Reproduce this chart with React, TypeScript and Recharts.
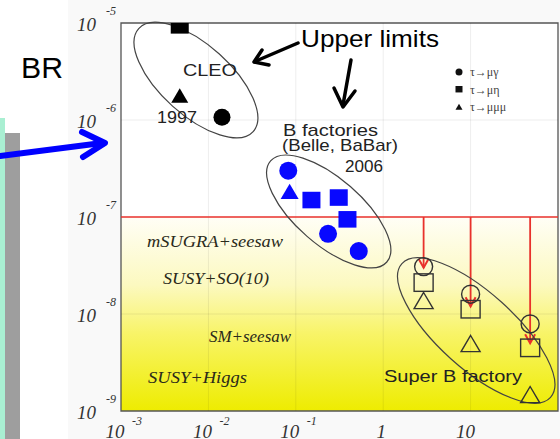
import React from 'react'
import {
  ScatterChart,
  Scatter,
  XAxis,
  YAxis,
  ReferenceArea,
  ReferenceLine,
  ReferenceDot,
  Legend,
} from 'recharts'

// axis ticks (log decades)
const xTicks = [0.001, 0.01, 0.1, 1, 10]
const xTickBase = ['10', '10', '10', '1', '10']
const xTickExp = ['-3', '-2', '-1', '', '']
const yTicks = [1e-9, 1e-8, 1e-7, 1e-6, 1e-5]
const yTickExp = ['-9', '-8', '-7', '-6', '-5']
const gridX = [0.01, 0.1, 1, 10]
const gridY = [1e-8, 1e-6]

// CLEO 1997 upper limits
const cleoMuGamma = [{ x: 0.0143, y: 1.07e-6 }]
const cleoMuEta = [{ x: 0.0047, y: 9.3e-6 }]
const cleoMuMuMu = [{ x: 0.0047, y: 1.77e-6 }]

// B factories 2006
const bfacMuGamma = [
  { x: 0.082, y: 3.0e-7 },
  { x: 0.234, y: 6.7e-8 },
  { x: 0.525, y: 4.45e-8 },
]
const bfacMuEta = [
  { x: 0.151, y: 1.47e-7 },
  { x: 0.31, y: 1.56e-7 },
  { x: 0.39, y: 9.3e-8 },
]
const bfacMuMuMu = [{ x: 0.085, y: 1.82e-7 }]

// Super B factory projections
const superBX = [2.9, 10, 48]
const superBMuGamma = [3.08e-8, 1.6e-8, 7.9e-9]
const superBMuEta = [2.07e-8, 1.1e-8, 4.4e-9]
const superBMuMuMu = [1.36e-8, 4.9e-9, 1.46e-9]
const superBArrowEnd = [3.0e-8, 1.2e-8, 5.0e-9]
const currentLimit = 1e-7

// centres of the group ellipses
const groupCenters = [
  { name: 'CLEO', x: 0.0072, y: 2.58e-6 },
  { name: 'B factories', x: 0.238, y: 1.14e-7 },
  { name: 'Super B', x: 11.6, y: 6.76e-9 },
]

const legendItems = [
  { label: 'τ→μγ', kind: 'circle' },
  { label: 'τ→μη', kind: 'square' },
  { label: 'τ→μμμ', kind: 'triangle' },
]

const toPoints = (xs: number[], ys: number[]) => xs.map((x, i) => ({ x, y: ys[i] }))

const SERIF = '"Liberation Serif", "Times New Roman", serif'
const SANS = '"Liberation Sans", Arial, sans-serif'
const RED = '#e8312b'
const BLUE = '#0808ff'
const ELLIPSE_STYLE = [
  { rx: 77, ry: 35, angle: 42 },
  { rx: 77, ry: 33, angle: 41 },
  { rx: 100, ry: 38, angle: 42 },
]

type Kind = 'circle' | 'square' | 'triangle'

const marker = (kind: Kind, fill: string, stroke: string, size: number) => (props: any) => {
  const { cx, cy } = props
  if (cx == null || cy == null) return <g />
  const h = size / 2
  const common = { fill, stroke, strokeWidth: fill === 'none' ? 1.4 : 0 }
  if (kind === 'circle') return <circle cx={cx} cy={cy} r={h} {...common} />
  if (kind === 'square') return <rect x={cx - h} y={cy - h} width={size} height={size * 0.92} {...common} />
  return (
    <polygon
      points={`${cx},${cy - h * 0.9} ${cx + h},${cy + h * 0.8} ${cx - h},${cy + h * 0.8}`}
      {...common}
    />
  )
}

const XTick = (props: any) => {
  const { x, y, payload } = props
  const i = xTicks.findIndex((t) => Math.abs(t - payload.value) / t < 1e-6)
  if (i < 0) return <g />
  const base = xTickBase[i]
  const exp = xTickExp[i]
  const shift = exp ? 6 : base.length === 1 ? 2 : 5
  return (
    <g fontFamily={SERIF} fontStyle="italic" fill="#333">
      <text x={x - shift} y={y + 27} textAnchor="middle" fontSize={19}>
        {base}
      </text>
      {exp && (
        <text x={x + 11} y={y + 14} fontSize={12}>
          {exp}
        </text>
      )}
    </g>
  )
}

const YTick = (props: any) => {
  const { x, y, payload } = props
  const i = yTicks.findIndex((t) => Math.abs(t - payload.value) / t < 1e-6)
  if (i < 0) return <g />
  return (
    <g fontFamily={SERIF} fontStyle="italic" fill="#333">
      <text x={x - 25} y={y + 8} textAnchor="end" fontSize={19}>
        10
      </text>
      <text x={x - 15} y={y - 8} fontSize={12}>
        {yTickExp[i]}
      </text>
    </g>
  )
}

const ellipseShape = (idx: number) => (props: any) => {
  const { cx, cy } = props
  const s = ELLIPSE_STYLE[idx]
  return (
    <ellipse
      cx={cx}
      cy={cy}
      rx={s.rx}
      ry={s.ry}
      transform={`rotate(${s.angle} ${cx} ${cy})`}
      fill="none"
      stroke="#444"
      strokeWidth={1.2}
    />
  )
}

const chevron = (props: any) => {
  const { cx, cy } = props
  return (
    <polyline
      points={`${cx - 5},${cy - 9} ${cx},${cy} ${cx + 5},${cy - 9}`}
      fill="none"
      stroke={RED}
      strokeWidth={2}
    />
  )
}

const LegendBox = () => (
  <svg width={100} height={56}>
    {legendItems.map((it, i) => {
      const cy = 8 + i * 17.5
      return (
        <g key={it.label}>
          {marker(it.kind as Kind, '#111', 'none', 7)({ cx: 6, cy })}
          <text x={17} y={cy + 4} fontFamily={SERIF} fontSize={12} fill="#444">
            {it.label}
          </text>
        </g>
      )
    })}
  </svg>
)

export default function App() {
  return (
    <div
      style={{
        position: 'absolute',
        left: 0,
        top: 0,
        width: 560,
        height: 439,
        overflow: 'hidden',
        background: '#fff',
      }}
    >
      <svg width={560} height={439} style={{ position: 'absolute', left: 0, top: 0 }}>
        <rect x={68} y={0} width={492} height={439} fill="#f9f9f9" />
        <rect x={0} y={118} width={5} height={321} fill="#a9efd2" />
        <rect x={5} y={133} width={15} height={306} fill="#9e9e9e" />
      </svg>

      <div style={{ position: 'absolute', left: 0, top: 0 }}>
        <ScatterChart width={560} height={439} margin={{ top: 23, right: 2, left: 61, bottom: 0 }}>
          <defs>
            <linearGradient id="yellowGrad" x1="0" y1="0" x2="0" y2="1">
              <stop offset="0%" stopColor="#fffef6" />
              <stop offset="35%" stopColor="#fcf9c0" />
              <stop offset="60%" stopColor="#f8f468" />
              <stop offset="100%" stopColor="#eeec00" />
            </linearGradient>
          </defs>
          <XAxis
            type="number"
            dataKey="x"
            scale="log"
            domain={[0.001, 100]}
            ticks={xTicks}
            allowDataOverflow
            axisLine={false}
            tickLine={false}
            tickSize={0}
            tickMargin={0}
            height={28}
            tick={XTick}
            interval={0}
          />
          <YAxis
            type="number"
            dataKey="y"
            scale="log"
            domain={[1e-9, 1e-5]}
            ticks={yTicks}
            allowDataOverflow
            axisLine={false}
            tickLine={false}
            tickSize={0}
            tickMargin={0}
            width={60}
            tick={YTick}
            interval={0}
          />

          <ReferenceArea x1={0.001} x2={100} y1={1e-9} y2={1e-5} fill="#fff" fillOpacity={1} stroke="none" />
          <ReferenceArea
            x1={0.001}
            x2={100}
            y1={1e-9}
            y2={currentLimit}
            fill="url(#yellowGrad)"
            fillOpacity={1}
            stroke="none"
          />
          {gridX.map((v) => (
            <ReferenceLine key={`gx${v}`} x={v} stroke="#000" strokeOpacity={0.07} strokeWidth={1} />
          ))}
          {gridY.map((v) => (
            <ReferenceLine key={`gy${v}`} y={v} stroke="#000" strokeOpacity={0.07} strokeWidth={1} />
          ))}
          <ReferenceLine y={currentLimit} stroke={RED} strokeWidth={1.4} />

          {superBX.map((x, i) => (
            <ReferenceLine
              key={`arr${x}`}
              segment={[
                { x, y: currentLimit },
                { x, y: superBArrowEnd[i] },
              ]}
              stroke={RED}
              strokeWidth={1.8}
            />
          ))}
          {superBX.map((x, i) => (
            <ReferenceDot key={`head${x}`} x={x} y={superBArrowEnd[i]} r={5} shape={chevron} />
          ))}

          {groupCenters.map((g, i) => (
            <ReferenceDot key={g.name} x={g.x} y={g.y} r={1} shape={ellipseShape(i)} />
          ))}

          <Scatter data={cleoMuGamma} shape={marker('circle', '#000', 'none', 17)} isAnimationActive={false} />
          <Scatter data={cleoMuEta} shape={marker('square', '#000', 'none', 18)} isAnimationActive={false} />
          <Scatter data={cleoMuMuMu} shape={marker('triangle', '#000', 'none', 17)} isAnimationActive={false} />

          <Scatter data={bfacMuGamma} shape={marker('circle', BLUE, 'none', 18)} isAnimationActive={false} />
          <Scatter data={bfacMuEta} shape={marker('square', BLUE, 'none', 18)} isAnimationActive={false} />
          <Scatter data={bfacMuMuMu} shape={marker('triangle', BLUE, 'none', 18)} isAnimationActive={false} />

          <Scatter
            data={toPoints(superBX, superBMuGamma)}
            shape={marker('circle', 'none', '#333', 18)}
            isAnimationActive={false}
          />
          <Scatter
            data={toPoints(superBX, superBMuEta)}
            shape={marker('square', 'none', '#333', 19)}
            isAnimationActive={false}
          />
          <Scatter
            data={toPoints(superBX, superBMuMuMu)}
            shape={marker('triangle', 'none', '#333', 19)}
            isAnimationActive={false}
          />

          <ReferenceArea
            x1={0.001}
            x2={100}
            y1={1e-9}
            y2={1e-5}
            fill="none"
            stroke="#555"
            strokeWidth={1.3}
          />

          <Legend
            layout="vertical"
            align="center"
            verticalAlign="middle"
            wrapperStyle={{ left: 453, top: 64, width: 100 }}
            content={LegendBox}
          />
        </ScatterChart>
      </div>

      <svg
        width={560}
        height={439}
        style={{ position: 'absolute', left: 0, top: 0, pointerEvents: 'none' }}
      >
        <text x={21} y={78} fontFamily={SANS} fontSize={30} textLength={42} lengthAdjust="spacingAndGlyphs">
          BR
        </text>
        <line x1={0} y1={156} x2={102} y2={143} stroke="#0000ff" strokeWidth={6} strokeLinecap="round" />
        <polyline
          points="82,132 105,143 83,157"
          fill="none"
          stroke="#0000ff"
          strokeWidth={6}
          strokeLinecap="round"
          strokeLinejoin="round"
        />

        <text x={301} y={47} fontFamily={SANS} fontSize={24} textLength={138} lengthAdjust="spacingAndGlyphs">
          Upper limits
        </text>
        <line x1={298} y1={43} x2={256} y2={61} stroke="#000" strokeWidth={3.5} strokeLinecap="round" />
        <polyline
          points="262,50 254,62 269,65"
          fill="none"
          stroke="#000"
          strokeWidth={3.5}
          strokeLinecap="round"
          strokeLinejoin="round"
        />
        <line x1={351} y1={60} x2={343} y2={105} stroke="#000" strokeWidth={3.5} strokeLinecap="round" />
        <polyline
          points="334,88 343,107 355,91"
          fill="none"
          stroke="#000"
          strokeWidth={3.5}
          strokeLinecap="round"
          strokeLinejoin="round"
        />

        <g fontFamily={SANS} fill="#222">
          <text x={183} y={76} fontSize={17} textLength={54} lengthAdjust="spacingAndGlyphs">
            CLEO
          </text>
          <text x={157} y={123} fontSize={16} textLength={40} lengthAdjust="spacingAndGlyphs">
            1997
          </text>
          <text x={283} y={136} fontSize={17} textLength={95} lengthAdjust="spacingAndGlyphs">
            B factories
          </text>
          <text x={282} y={151} fontSize={17} textLength={116} lengthAdjust="spacingAndGlyphs">
            (Belle, BaBar)
          </text>
          <text x={345} y={172} fontSize={16} textLength={38} lengthAdjust="spacingAndGlyphs">
            2006
          </text>
          <text x={384} y={382} fontSize={17} textLength={138} lengthAdjust="spacingAndGlyphs">
            Super B factory
          </text>
        </g>

        <g fontFamily={SERIF} fontStyle="italic" fill="#2a2a1a" fontSize={17}>
          <text x={147} y={247} textLength={136} lengthAdjust="spacingAndGlyphs">
            mSUGRA+seesaw
          </text>
          <text x={163} y={284} textLength={106} lengthAdjust="spacingAndGlyphs">
            SUSY+SO(10)
          </text>
          <text x={209} y={342} textLength={82} lengthAdjust="spacingAndGlyphs">
            SM+seesaw
          </text>
          <text x={148} y={383} textLength={99} lengthAdjust="spacingAndGlyphs">
            SUSY+Higgs
          </text>
        </g>
      </svg>
    </div>
  )
}
